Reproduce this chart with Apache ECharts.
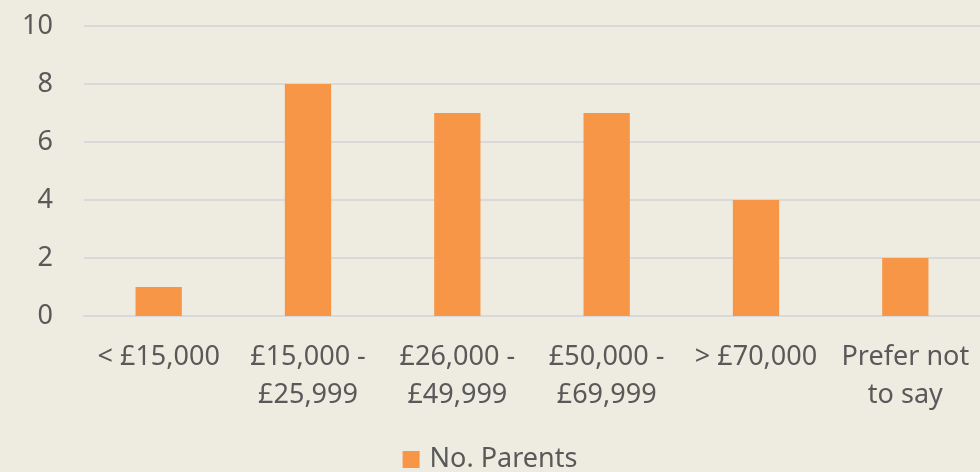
<!DOCTYPE html>
<html>
<head>
<meta charset="utf-8">
<script src="https://cdn.jsdelivr.net/npm/echarts@6/dist/echarts.min.js"></script>
<style>
  html, body { margin: 0; padding: 0; background: #eeebe1; }
  #chart { width: 980px; height: 472px; }
</style>
</head>
<body>
<div id="chart"></div>
<script>
var categories = ['< £15,000', '£15,000 -\n£25,999', '£26,000 -\n£49,999', '£50,000 -\n£69,999', '> £70,000', 'Prefer not\nto say'];
var parents = [1, 8, 7, 7, 4, 2];
var yTicks = { min: 0, max: 10, interval: 2 };

var chart = echarts.init(document.getElementById('chart'));
var textColor = '#595959';
var font = 'Noto Sans';

var option = {
    backgroundColor: '#eeebe1',
    animation: false,
    grid: { left: 84, right: 0, top: 26, bottom: 156 },
    legend: {
        data: ['No. Parents'],
        bottom: -6,
        left: 'center',
        itemWidth: 17,
        itemHeight: 17,
        itemGap: 6,
        icon: 'rect',
        textStyle: { color: textColor, fontSize: 27, fontFamily: font, padding: [0, 0, 0, 5] }
    },
    xAxis: {
        type: 'category',
        data: categories,
        axisLine: { lineStyle: { color: '#d9d9d9', width: 2 } },
        axisTick: { show: false },
        axisLabel: {
            color: textColor,
            fontSize: 27,
            fontFamily: font,
            lineHeight: 38,
            margin: 22,
            interval: 0
        }
    },
    yAxis: {
        type: 'value',
        min: yTicks.min,
        max: yTicks.max,
        interval: yTicks.interval,
        axisLine: { show: false },
        axisTick: { show: false },
        splitLine: { lineStyle: { color: '#d9d9d9', width: 2 } },
        axisLabel: {
            color: textColor,
            fontSize: 27,
            fontFamily: font,
            margin: 31
        }
    },
    series: [{
        name: 'No. Parents',
        type: 'bar',
        data: parents,
        barWidth: '31%',
        itemStyle: { color: '#f79646' }
    }]
};
chart.setOption(option);
</script>
</body>
</html>
